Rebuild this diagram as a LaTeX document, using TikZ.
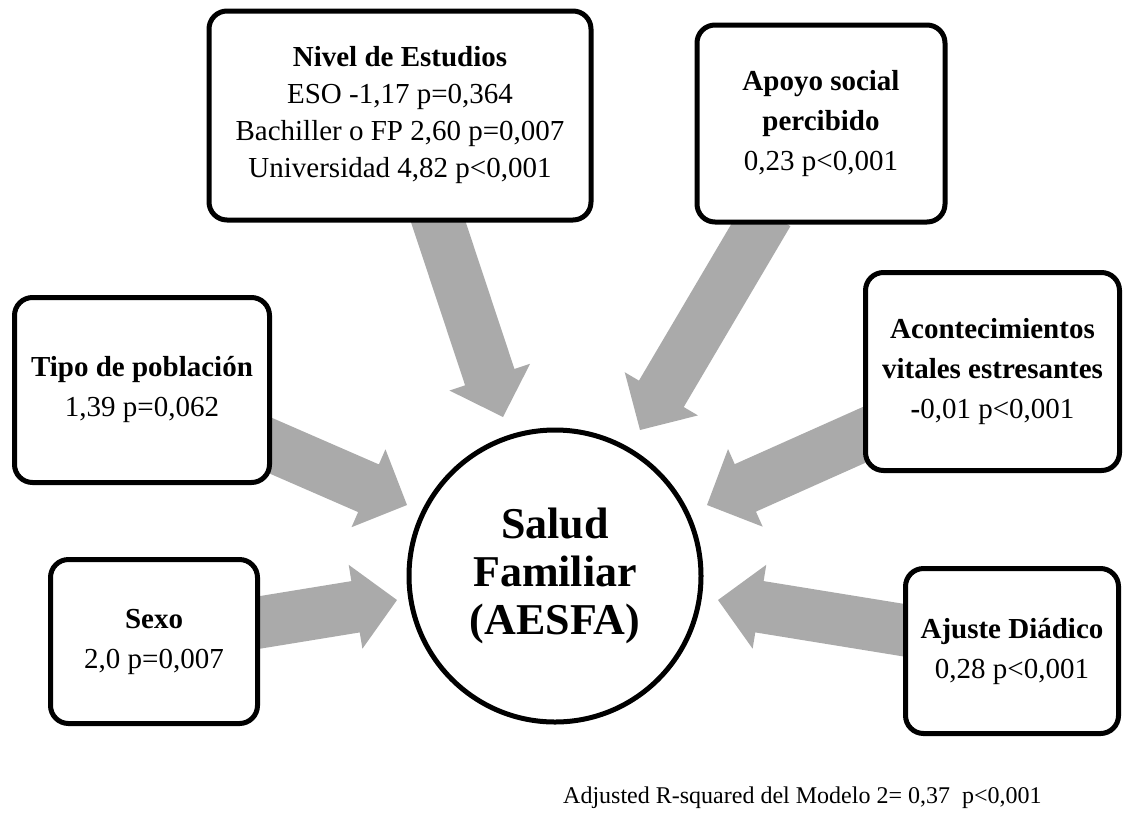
\documentclass[tikz,border=0pt]{standalone}
\usepackage{fontspec}
\setmainfont{Liberation Serif}
\usetikzlibrary{calc}
\definecolor{arrgray}{RGB}{170,170,170}
\newcommand\blockarrow[3]{%
  \coordinate (#3) at ($(#2)!42pt!(#1)$);
  \fill[arrgray] ($(#1)!26pt!90:(#2)$) -- ($(#3)!26pt!90:(#2)$) -- ($(#3)!42.5pt!90:(#2)$) -- (#2) -- ($(#3)!42.5pt!-90:(#2)$) -- ($(#3)!26pt!-90:(#2)$) -- ($(#1)!26pt!-90:(#2)$) -- cycle;}
\tikzset{
  box/.style={draw, line width=5pt, rounded corners=18pt, fill=white, align=center, inner sep=0pt, font=\fontsize{29}{40}\selectfont},
  bigcirc/.style={draw, circle, line width=5pt, inner sep=0pt, align=center, font=\bfseries\fontsize{44}{48}\selectfont},
  note/.style={inner sep=0pt, font=\fontsize{24}{28}\selectfont}
}
\begin{document}
\begin{tikzpicture}[x=1pt,y=-1pt]
\useasboundingbox (0,0) rectangle (1124,812);
% arrow coordinates
\coordinate (nivS) at (433,206);   \coordinate (nivT) at (503,417);
\coordinate (apoS) at (768,213);   \coordinate (apoT) at (640,430);
\coordinate (tipS) at (260,441);   \coordinate (tipT) at (407,505);
\coordinate (acoS) at (875,430);   \coordinate (acoT) at (707,505);
\coordinate (ajuS) at (915,632);   \coordinate (ajuT) at (718,600);
\coordinate (sexS) at (250,624);   \coordinate (sexT) at (397,600);
\blockarrow{nivS}{nivT}{nivB}
\blockarrow{apoS}{apoT}{apoB}
\blockarrow{tipS}{tipT}{tipB}
\blockarrow{acoS}{acoT}{acoB}
\blockarrow{ajuS}{ajuT}{ajuB}
\blockarrow{sexS}{sexT}{sexB}
% boxes
\node[box, minimum width=382pt, minimum height=209pt, font=\fontsize{29}{37}\selectfont] (nivel) at (400,115.5)
  {\textbf{Nivel de Estudios}\\ESO -1,17 p=0,364\\Bachiller o FP 2,60 p=0,007\\Universidad 4,82 p<0,001};
\node[box, minimum width=248pt, minimum height=197pt] (apoyo) at (821,123.5)
  {\textbf{Apoyo social}\\\textbf{percibido}\\0,23 p<0,001};
\node[box, minimum width=255pt, minimum height=185pt] (tipo) at (142,390)
  {\textbf{Tipo de población}\\1,39 p=0,062};
\node[box, minimum width=254pt, minimum height=198pt] (acont) at (992.5,371.5)
  {\textbf{Acontecimientos}\\\textbf{vitales estresantes}\\\textbf{-}0,01 p<0,001};
\node[box, minimum width=207pt, minimum height=164pt] (sexo) at (154,641.5)
  {\textbf{Sexo}\\2,0 p=0,007};
\node[box, minimum width=213pt, minimum height=165pt] (ajuste) at (1012,651)
  {\textbf{Ajuste Diádico}\\0,28 p<0,001};
% central circle
\node[bigcirc, minimum size=292pt] (salud) at (555,576) {Salud\\Familiar\\(AESFA)};
% note
\node[note, anchor=base west] (rsq) at (563,803) {Adjusted R-squared del Modelo 2= 0,37\ \ p<0,001};
\end{tikzpicture}
\end{document}
